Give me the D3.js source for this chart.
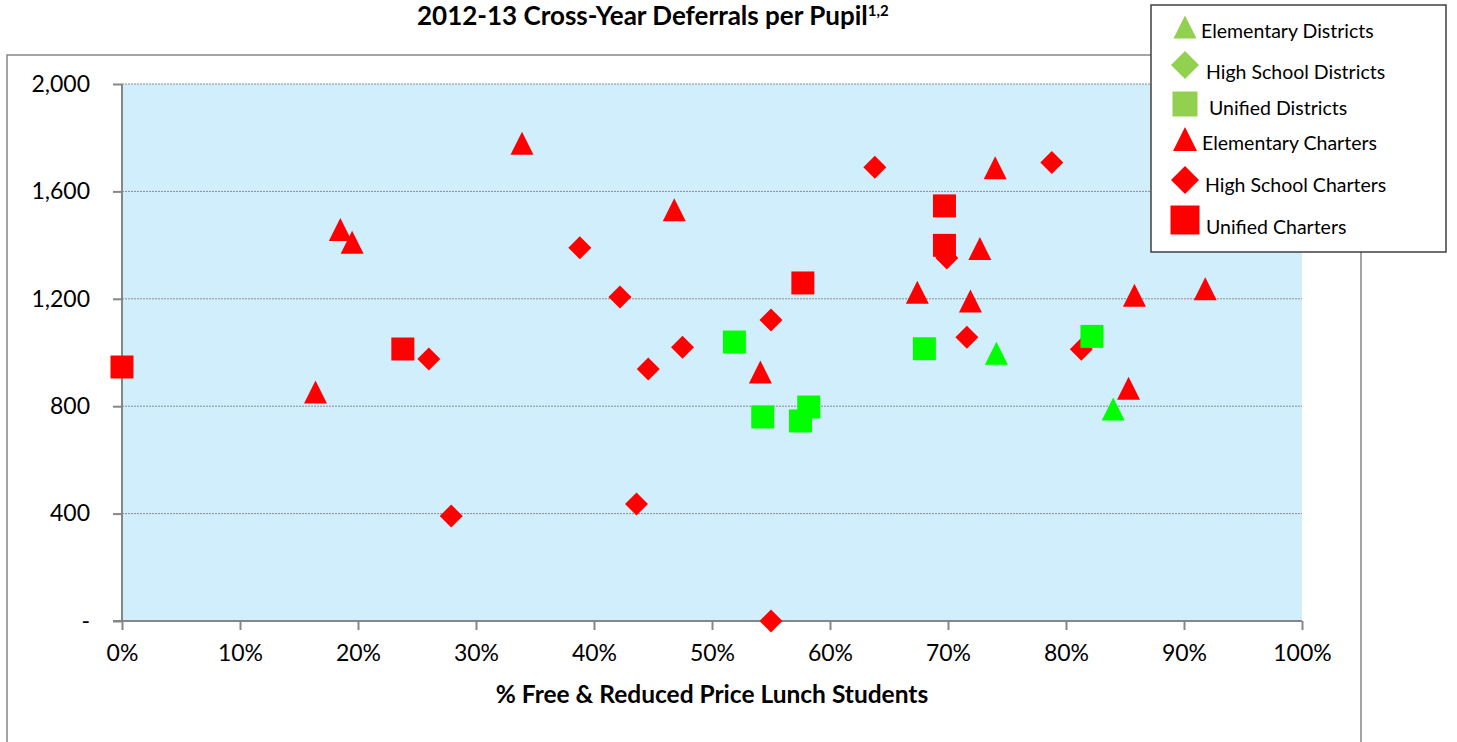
<!DOCTYPE html>
<html>
<head>
<meta charset="utf-8">
<script src="https://cdn.jsdelivr.net/npm/d3@7"></script>
<style>
  body { margin: 0; background: #fff; }
  svg text { font-family: Lato, "Open Sans", sans-serif; fill: #000; }
</style>
</head>
<body>
<svg id="chart" width="1457" height="742"></svg>
<script>
// datos: [% almuerzo gratis, diferidos por alumno]
const elemDistricts = [[74.1, 997], [84.0, 790]];
const hsDistricts = [];
const unifiedDistricts = [[51.9, 1039], [54.3, 760], [57.5, 745], [58.2, 797], [68.0, 1014], [82.2, 1060]];
const elemCharters = [[16.4, 853], [18.5, 1458], [19.5, 1411], [33.9, 1779], [46.8, 1532], [54.1, 927],
  [67.4, 1224], [71.9, 1192], [72.7, 1387], [74.0, 1688], [85.3, 867], [85.8, 1213], [91.8, 1237]];
const hsCharters = [[26.0, 976], [27.9, 391], [38.8, 1390], [42.2, 1207], [43.6, 436], [44.6, 939],
  [47.5, 1020], [55.0, 1121], [55.0, 0], [63.8, 1690], [69.9, 1352], [71.6, 1057], [78.8, 1708], [81.3, 1012]];
const unifiedCharters = [[0, 946], [23.8, 1013], [57.7, 1259], [69.7, 1546], [69.7, 1399]];

const xTicks = [0, 10, 20, 30, 40, 50, 60, 70, 80, 90, 100];
const yTicks = [0, 400, 800, 1200, 1600, 2000];

const legendNames = ["Elementary Districts", "High School Districts", "Unified Districts",
  "Elementary Charters", "High School Charters", "Unified Charters"];

// orden de dibujo: charters primero, distritos encima
const series = [
  { name: legendNames[3], shape: "triangle", color: "#ff0000", data: elemCharters },
  { name: legendNames[4], shape: "diamond", color: "#ff0000", data: hsCharters },
  { name: legendNames[5], shape: "square", color: "#ff0000", data: unifiedCharters },
  { name: legendNames[0], shape: "triangle", color: "#00ff00", data: elemDistricts },
  { name: legendNames[1], shape: "diamond", color: "#00ff00", data: hsDistricts },
  { name: legendNames[2], shape: "square", color: "#00ff00", data: unifiedDistricts }
];

function shapePath(shape, s) {
  const h = s / 2;
  if (shape === "triangle") return `M0,${-h}L${h},${h}L${-h},${h}Z`;
  if (shape === "diamond") return `M0,${-h}L${h},0L0,${h}L${-h},0Z`;
  return `M${-h},${-h}H${h}V${h}H${-h}Z`;
}

const svg = d3.select("#chart");
const plot = { left: 122, right: 1302, top: 84, bottom: 621 };

const x = d3.scaleLinear().domain([0, 100]).range([plot.left, plot.right]);
const y = d3.scaleLinear().domain([0, 2000]).range([plot.bottom, plot.top]);

// marco exterior
svg.append("rect")
  .attr("x", 7).attr("y", 55)
  .attr("width", 1354).attr("height", 720)
  .attr("fill", "none").attr("stroke", "#868686").attr("stroke-width", 1.5);

// título
const title = svg.append("text")
  .attr("x", 417).attr("y", 25)
  .attr("font-size", 26).attr("font-weight", "bold")
  .text("2012-13 Cross-Year Deferrals per Pupil");
title.append("tspan")
  .attr("font-size", 15).attr("dy", -9)
  .text("1,2");

// fondo del área de trazado
svg.append("rect")
  .attr("x", plot.left).attr("y", plot.top)
  .attr("width", plot.right - plot.left).attr("height", plot.bottom - plot.top)
  .attr("fill", "#d1eefd");

// líneas de cuadrícula punteadas
svg.append("g")
  .selectAll("line")
  .data(yTicks.filter(d => d > 0))
  .enter()
  .append("line")
  .attr("x1", plot.left).attr("x2", plot.right)
  .attr("y1", d => y(d)).attr("y2", d => y(d))
  .attr("stroke", "#8c8c8c").attr("stroke-width", 1)
  .attr("stroke-dasharray", "2,1");

// ejes
const yAxis = svg.append("g")
  .attr("transform", `translate(${plot.left},0)`)
  .call(d3.axisLeft(y).tickValues(yTicks).tickSize(9).tickPadding(23)
    .tickFormat(d => d === 0 ? "-" : d3.format(",")(d)));

const xAxis = svg.append("g")
  .attr("transform", `translate(0,${plot.bottom})`)
  .call(d3.axisBottom(x).tickValues(xTicks).tickSize(9).tickPadding(15)
    .tickFormat(d => d + "%"));

[yAxis, xAxis].forEach(g => {
  g.select(".domain").attr("stroke", "#868686").attr("stroke-width", 2);
  g.selectAll(".tick line").attr("stroke", "#868686").attr("stroke-width", 2);
  g.selectAll(".tick text").attr("font-size", 23).attr("font-family", "Lato, sans-serif").attr("fill", "#000");
});
yAxis.select(".domain").attr("d", `M0,${plot.bottom}V${plot.top}`);
xAxis.select(".domain").attr("d", `M${plot.left - 9},0H${plot.right}`);

// título eje x
svg.append("text")
  .attr("x", (plot.left + plot.right) / 2).attr("y", 703)
  .attr("text-anchor", "middle")
  .attr("font-size", 24.5).attr("font-weight", "bold")
  .text("% Free & Reduced Price Lunch Students");

// puntos
series.forEach(s => {
  svg.append("g")
    .selectAll("path")
    .data(s.data)
    .enter()
    .append("path")
    .attr("transform", d => `translate(${x(d[0])},${y(d[1])})`)
    .attr("d", shapePath(s.shape, 23))
    .attr("fill", s.color);
});

// leyenda
const legend = svg.append("g");
legend.append("rect")
  .attr("x", 1151).attr("y", 5)
  .attr("width", 295).attr("height", 247)
  .attr("fill", "#fff").attr("stroke", "#404040").attr("stroke-width", 1.5);

const legendRows = [
  { shape: "triangle", color: "#92d050", cy: 27, size: 23, tx: 1201, ty: 31 },
  { shape: "diamond", color: "#92d050", cy: 65, size: 28, tx: 1206, ty: 72 },
  { shape: "square", color: "#92d050", cy: 104, size: 25, tx: 1209, ty: 108 },
  { shape: "triangle", color: "#ff0000", cy: 139, size: 24, tx: 1202, ty: 143 },
  { shape: "diamond", color: "#ff0000", cy: 180, size: 28, tx: 1205, ty: 185 },
  { shape: "square", color: "#ff0000", cy: 220, size: 29, tx: 1206, ty: 227 }
];

legend.selectAll("path")
  .data(legendRows)
  .enter()
  .append("path")
  .attr("transform", d => `translate(1185,${d.cy})`)
  .attr("d", d => shapePath(d.shape, d.size))
  .attr("fill", d => d.color);

legend.selectAll("text")
  .data(legendRows)
  .enter()
  .append("text")
  .attr("x", d => d.tx).attr("y", d => d.ty)
  .attr("dy", "0.35em")
  .attr("font-size", 19.5)
  .text((d, i) => legendNames[i]);
</script>
</body>
</html>
